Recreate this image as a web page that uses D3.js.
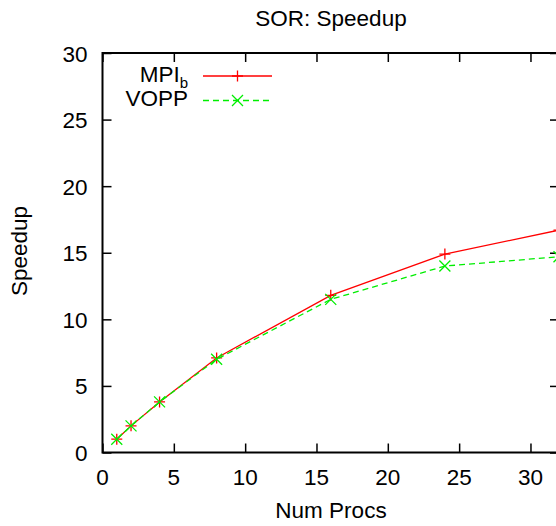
<!DOCTYPE html>
<html>
<head>
<meta charset="utf-8">
<script src="https://cdn.jsdelivr.net/npm/d3@7"></script>
<style>
  body { margin: 0; background: #fff; }
  svg { display: block; font-family: "Liberation Sans", Arial, sans-serif; }
</style>
</head>
<body>
<svg id="chart"></svg>
<script>
var procs = [1, 2, 4, 8, 16, 24, 32];
var mpiSpeedup = [1.0, 2.0, 3.8, 7.1, 11.8, 14.9, 16.7];
var voppSpeedup = [1.0, 2.0, 3.8, 7.0, 11.5, 14.0, 14.7];
var xTicks = [0, 5, 10, 15, 20, 25, 30];
var yTicks = [0, 5, 10, 15, 20, 25, 30];

var width = 556, height = 526;
var margin = { top: 53, right: -3, bottom: 73.5, left: 102.5 };
var fs = 22.5;

var svg = d3.select('#chart')
            .attr('width', width)
            .attr('height', height);

var x = d3.scaleLinear()
          .domain([0, 32])
          .range([margin.left, width - margin.right]);
var y = d3.scaleLinear()
          .domain([0, 30])
          .range([height - margin.bottom, margin.top]);

var tick = 9;

// inward ticks on all four sides
svg.append('g')
    .attr('transform', 'translate(0,' + y(0) + ')')
    .call(d3.axisBottom(x).tickValues(xTicks).tickSize(-tick).tickPadding(0).tickFormat(''))
    .call(g => g.select('.domain').remove());
svg.append('g')
    .attr('transform', 'translate(0,' + y(30) + ')')
    .call(d3.axisTop(x).tickValues(xTicks).tickSize(-tick).tickFormat(''))
    .call(g => g.select('.domain').remove());
svg.append('g')
    .attr('transform', 'translate(' + x(0) + ',0)')
    .call(d3.axisLeft(y).tickValues(yTicks).tickSize(-tick).tickFormat(''))
    .call(g => g.select('.domain').remove());
svg.append('g')
    .attr('transform', 'translate(' + x(32) + ',0)')
    .call(d3.axisRight(y).tickValues(yTicks).tickSize(-tick).tickFormat(''))
    .call(g => g.select('.domain').remove());

svg.selectAll('.tick line').attr('stroke', '#000').attr('stroke-width', 1.5);

// frame
svg.append('rect')
    .attr('x', x(0))
    .attr('y', y(30))
    .attr('width', x(32) - x(0))
    .attr('height', y(0) - y(30))
    .attr('fill', 'none')
    .attr('stroke', '#000')
    .attr('stroke-width', 2);

// tick labels
svg.selectAll('.xlab')
    .data(xTicks)
    .enter()
    .append('text')
    .attr('x', d => x(d))
    .attr('y', y(0) + 32)
    .attr('text-anchor', 'middle')
    .style('font-size', fs + 'px')
    .text(d => d);

svg.selectAll('.ylab')
    .data(yTicks)
    .enter()
    .append('text')
    .attr('x', x(0) - 15)
    .attr('y', d => y(d) + 8.5)
    .attr('text-anchor', 'end')
    .style('font-size', fs + 'px')
    .text(d => d);

// titles
svg.append('text')
    .attr('x', 331)
    .attr('y', 26)
    .attr('text-anchor', 'middle')
    .style('font-size', fs + 'px')
    .text('SOR: Speedup');

svg.append('text')
    .attr('x', 331)
    .attr('y', 518)
    .attr('text-anchor', 'middle')
    .style('font-size', fs + 'px')
    .text('Num Procs');

svg.append('text')
    .attr('transform', 'translate(27,' + 251 + ') rotate(-90)')
    .attr('text-anchor', 'middle')
    .style('font-size', fs + 'px')
    .text('Speedup');

// series
var series = [
    { name: 'MPI', sub: 'b', values: mpiSpeedup, color: '#ff0000', dash: null, marker: 'plus' },
    { name: 'VOPP', sub: null, values: voppSpeedup, color: '#00ee00', dash: '6,4', marker: 'cross' }
];

var line = d3.line()
    .x((d, i) => x(procs[i]))
    .y(d => y(d));

function marker(g, type, cx, cy, color) {
    var s = 5.5;
    var p = type === 'plus'
        ? 'M' + (cx - s) + ',' + cy + 'H' + (cx + s) + 'M' + cx + ',' + (cy - s) + 'V' + (cy + s)
        : 'M' + (cx - s) + ',' + (cy - s) + 'L' + (cx + s) + ',' + (cy + s) + 'M' + (cx - s) + ',' + (cy + s) + 'L' + (cx + s) + ',' + (cy - s);
    g.append('path')
        .attr('d', p)
        .attr('stroke', color)
        .attr('stroke-width', 1.3)
        .attr('fill', 'none');
}

series.forEach(function (s, k) {
    var g = svg.append('g');
    g.append('path')
        .datum(s.values)
        .attr('d', line)
        .attr('fill', 'none')
        .attr('stroke', s.color)
        .attr('stroke-width', 1.3)
        .attr('stroke-dasharray', s.dash);
    s.values.forEach(function (v, i) {
        marker(g, s.marker, x(procs[i]), y(v), s.color);
    });

    // legend
    var ly = 76 + k * 24.5;
    var t = svg.append('text')
        .attr('x', 188)
        .attr('y', ly + 5.5)
        .attr('text-anchor', 'end')
        .style('font-size', fs + 'px');
    t.append('tspan').text(s.name);
    if (s.sub) {
        t.append('tspan')
            .attr('dy', 6)
            .style('font-size', '15px')
            .text(s.sub);
    }
    svg.append('line')
        .attr('x1', 203).attr('x2', 272)
        .attr('y1', ly).attr('y2', ly)
        .attr('stroke', s.color)
        .attr('stroke-width', 1.3)
        .attr('stroke-dasharray', s.dash);
    marker(svg, s.marker, 237.5, ly, s.color);
});
</script>
</body>
</html>
